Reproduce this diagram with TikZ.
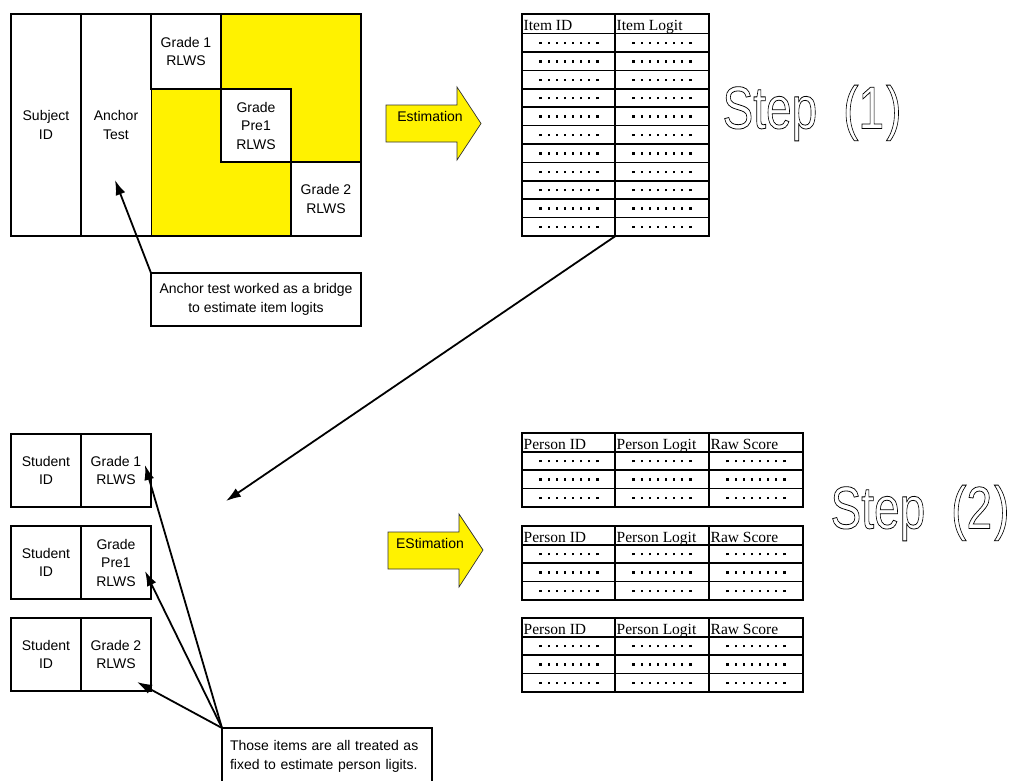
\documentclass[tikz,border=0pt]{standalone}
\usepackage{fontspec}
\setmainfont{Liberation Sans}
\newfontfamily\headfont{Liberation Serif}
\usepackage{graphicx}
\usepackage{tikz}
\usetikzlibrary{shapes,arrows,arrows.meta,positioning}

\newcommand\dotbox{\rule{2.4pt}{2.4pt}\hspace{5.7pt}}
\newcommand\celldots{\dotbox\dotbox\dotbox\dotbox\dotbox\dotbox\dotbox\rule{2.4pt}{2.4pt}}
\newcommand\outlinetext[1]{\special{pdf:literal direct 1 Tr 0.6 w}#1\special{pdf:literal direct 0 Tr}}

\tikzstyle{cell} = [draw, line width=2pt, align=center, outer sep=0pt, inner sep=0pt,
    font=\fontsize{14}{18.5}\selectfont]
\tikzstyle{callout} = [draw, line width=2pt, fill=white, outer sep=0pt,
    font=\fontsize{14}{19}\selectfont]
\tikzstyle{tabframe} = [draw, line width=2.5pt, outer sep=0pt, inner sep=0pt]
\tikzstyle{tabhead} = [anchor=base west, inner sep=1.5pt, font=\headfont\fontsize{15.5}{16}\selectfont]
\tikzstyle{dots} = [inner sep=0pt]
\tikzstyle{bigarrow} = [draw=black!80, fill=yellow, line width=0.7pt]
\tikzstyle{steptext} = [inner sep=0pt, font=\fontsize{46}{46}\selectfont]
\tikzset{
  line/.style ={draw, line width=1.8pt, -{Latex[length=15pt, width=10pt]}, shorten >=0pt}
}

\begin{document}
\begin{tikzpicture}[x=1pt, y=-1pt]
   \useasboundingbox (0,0) rectangle (1012,780);
   % step 1 : item calibration
   \fill [yellow] (221,14) rectangle (361,162);
   \fill [yellow] (151,89) rectangle (291,236);
   \node [cell, minimum width=70, minimum height=222] (subject) at (46,125) {Subject\\ID};
   \node [cell, line width=1pt, minimum width=70, minimum height=222, right=0pt of subject] (anchor) {Anchor\\Test};
   \node [cell, fill=white, minimum width=70, minimum height=75] (grade1) at (186,51.5) {Grade 1\\RLWS};
   \node [cell, fill=white, minimum width=70, minimum height=73] (pre1) at (256,125.5) {Grade\\Pre1\\RLWS};
   \node [cell, fill=white, minimum width=70, minimum height=74] (grade2) at (326,199) {Grade 2\\RLWS};
   \draw [line width=2pt] (11,14) rectangle (361,236);
   \node [callout, align=center, minimum width=210, minimum height=53] (bridge) at (256,299.5)
      {Anchor test worked as a bridge\\to estimate item logits};
   \coordinate (anchor_pt) at (115,180);
   \path [line] (bridge.north west) -- (anchor_pt);

   \draw [bigarrow] (386,105) -- (457,105) -- (457,87) -- (481,123.5) -- (457,160) -- (457,142) -- (386,142) -- cycle;
   \node [font=\fontsize{14}{14}\selectfont] (est1) at (430,116) {Estimation};

   \node [tabframe, minimum width=187, minimum height=222] (itemtab) at (615.5,125) {};
   \draw [line width=1.6pt] (615,14) -- (615,236);
   \foreach \r in {0,...,10} {
      \draw [line width=1.6pt] (522,33.5+18.4*\r) -- (709,33.5+18.4*\r);
      \node [dots] (iid\r) at (569,43+18.4*\r) {\celldots};
      \node [dots] (ilg\r) at (662,43+18.4*\r) {\celldots};
   }
   \node [tabhead] (iidhead) at (522,30) {Item ID};
   \node [tabhead] (ilghead) at (615,30) {Item Logit};
   \node [steptext] (step1) at (812,113) {\scalebox{1}[1.3]{\outlinetext{Step\hspace{26pt}(1\hspace{2pt})}}};

   \coordinate (stepdown) at (226,501);
   \path [line] (itemtab.south) -- (stepdown);

   % step 2 : person measures
   \node [cell, minimum width=70, minimum height=73] (sid1) at (46,470.5) {Student\\ID};
   \node [cell, minimum width=70, minimum height=73, right=0pt of sid1] (grd1) {Grade 1\\RLWS};
   \node [cell, minimum width=70, minimum height=73, below=19pt of sid1] (sid2) {Student\\ID};
   \node [cell, minimum width=70, minimum height=73, right=0pt of sid2] (grd2) {Grade\\Pre1\\RLWS};
   \node [cell, minimum width=70, minimum height=73, below=19pt of sid2] (sid3) {Student\\ID};
   \node [cell, minimum width=70, minimum height=73, right=0pt of sid3] (grd3) {Grade 2\\RLWS};
   \node [callout, align=left, text width=194pt, inner xsep=8pt, minimum height=56] (fixed) at (327,756)
      {Those items are all treated as\\fixed to estimate person ligits.};
   \coordinate (grd1_pt) at (145,465);
   \coordinate (grd2_pt) at (145,571);
   \coordinate (grd3_pt) at (137,682);
   \path [line] (fixed.north west) -- (grd1_pt);
   \path [line] (fixed.north west) -- (grd2_pt);
   \path [line] (fixed.north west) -- (grd3_pt);

   \draw [bigarrow] (388,532) -- (459,532) -- (459,514) -- (483,550) -- (459,587) -- (459,569) -- (388,569) -- cycle;
   \node [font=\fontsize{14}{14}\selectfont] (est2) at (430,543) {EStimation};

   \foreach \t/\top in {1/433,2/526,3/618} {
      \node [tabframe, minimum width=281, minimum height=74, anchor=north west] (ptab\t) at (522,\top) {};
      \draw [line width=1.6pt] (615,\top) -- (615,\top+74);
      \draw [line width=1.6pt] (709,\top) -- (709,\top+74);
      \node [tabhead] (pidhead\t) at (522,\top+16) {Person ID};
      \node [tabhead] (plghead\t) at (615,\top+16) {Person Logit};
      \node [tabhead] (rawhead\t) at (709,\top+16) {Raw Score};
      \foreach \k in {0,1,2} {
         \draw [line width=1.6pt] (522,\top+18.7+18.4*\k) -- (803,\top+18.7+18.4*\k);
         \node [dots] (pid\t-\k) at (569,\top+28.2+18.4*\k) {\celldots};
         \node [dots] (plg\t-\k) at (662,\top+28.2+18.4*\k) {\celldots};
         \node [dots] (raw\t-\k) at (756,\top+28.2+18.4*\k) {\celldots};
      }
   }
   \node [steptext] (step2) at (920,513) {\scalebox{1}[1.3]{\outlinetext{Step\hspace{26pt}(2\hspace{2pt})}}};
\end{tikzpicture}
\end{document}
